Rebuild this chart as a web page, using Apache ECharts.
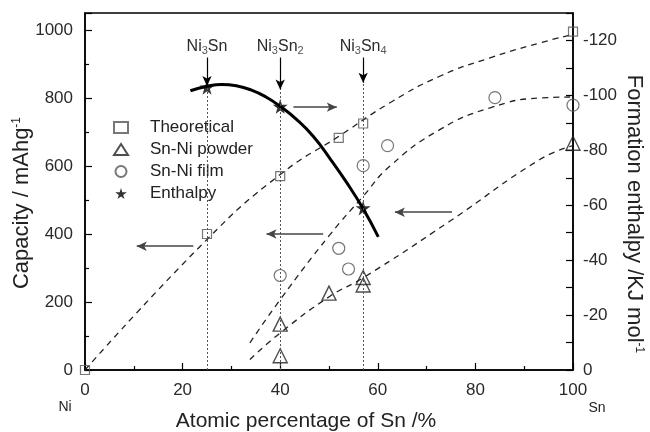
<!DOCTYPE html>
<html>
<head>
<meta charset="utf-8">
<script src="https://cdn.jsdelivr.net/npm/echarts@6/dist/echarts.min.js"></script>
<style>
  html, body { margin: 0; padding: 0; background: #fff; }
  #main { width: 650px; height: 432px; }
</style>
</head>
<body>
<div id="main"></div>
<script>
// measured points (x = atomic % Sn)
const pctTheo = [0, 25, 40, 52, 57, 100];
const capTheo = [0, 400, 570, 683, 725, 995];
const pctPowder = [40, 40, 50, 57, 57, 100];
const capPowder = [135, 42, 226, 272, 250, 667];
const pctFilm = [40, 52, 54, 57, 62, 84, 100];
const capFilm = [278, 358, 297, 601, 660, 801, 779];
const pctStar = [25, 40, 57];
const enthStar = [-103, -96, -59];

// curves
const pctCurve = [21.6, 25, 28, 31, 34, 37, 40, 43.5, 46.8, 50.2, 53.6, 57, 60.1];
const enthCurve = [-101.7, -103.3, -104, -103.5, -102, -99.5, -96, -91, -85, -77, -68.3, -58.7, -48.5];
const pctTheoFit = [0, 25, 40, 52.3, 62.5, 72.7, 83, 93.2, 100];
const capTheoFit = [0, 384, 575, 690, 786, 864, 918, 962, 987];
const pctFilmFit = [33.8, 40, 50.2, 57, 62.5, 72.7, 83, 93.2, 100];
const capFilmFit = [80, 207, 398, 511, 600, 707, 771, 800, 803];
const pctPowderFit = [33.8, 40, 50.2, 57, 74.8, 93.2, 100];
const capPowderFit = [31, 109, 217, 271, 438, 619, 660];

// phases: label, x, arrow top / tip (capacity units)
const phaseNames = ["Ni{sub|3}Sn", "Ni{sub|3}Sn{sub|2}", "Ni{sub|3}Sn{sub|4}"];
const phasePct = [25, 40, 57];
const phaseArrowTop = [919, 919, 919];
const phaseArrowTip = [835, 825, 845];

// horizontal arrows: [x from, x to, capacity]
const arrowFrom = [42.7, 75.2, 48.8, 22.2];
const arrowTo = [51.6, 63.5, 37.2, 10.6];
const arrowCap = [773, 464, 400, 364];

const ticksX = [0, 20, 40, 60, 80, 100];

const font = "Liberation Sans";
const star = "path://M50,0 L61,35 L98,35 L68,57 L79,91 L50,70 L21,91 L32,57 L2,35 L39,35 Z";
const zip = (a, b) => a.map((v, i) => [v, b[i]]);

const myChart = echarts.init(document.getElementById("main"));

const axisCommon = {
  type: "value",
  axisLine: { show: true, lineStyle: { color: "#000", width: 1.5 } },
  axisTick: { show: true, inside: true, length: 7, lineStyle: { color: "#000", width: 1.2 } },
  minorTick: { show: true, splitNumber: 2, length: 4, lineStyle: { color: "#000", width: 1.2 } },
  splitLine: { show: false },
  axisLabel: { fontFamily: font, fontSize: 17, color: "#2a2a2a" }
};

const dashed = { color: "#222", width: 1.3, type: [6, 5] };

let option = {
  animation: false,
  backgroundColor: "#fff",
  grid: {
    left: 85, right: 77, top: 13, bottom: 62,
    show: true, borderColor: "#000", borderWidth: 1.5, backgroundColor: "transparent"
  },
  legend: {
    orient: "vertical",
    left: 108,
    top: 114,
    itemWidth: 14,
    itemHeight: 11,
    itemGap: 5,
    data: ["Theoretical", "Sn-Ni powder", "Sn-Ni film", "Enthalpy"],
    textStyle: { fontFamily: font, fontSize: 17, color: "#222", padding: [0, 0, 0, 17] }
  },
  xAxis: Object.assign({}, axisCommon, {
    min: 0, max: 100, interval: 20,
    axisLabel: Object.assign({}, axisCommon.axisLabel, {
      margin: 12,
      formatter: v => (ticksX.indexOf(v) >= 0 ? String(v) : "")
    })
  }),
  yAxis: [
    Object.assign({}, axisCommon, {
      position: "left",
      min: 0, max: 1050, interval: 200,
      axisLabel: Object.assign({}, axisCommon.axisLabel, {
        margin: 12,
        formatter: v => (v % 200 === 0 ? String(v) : "")
      })
    }),
    Object.assign({}, axisCommon, {
      position: "right",
      min: -130, max: 0, interval: 10, inverse: true,
      minorTick: { show: false },
      axisLabel: Object.assign({}, axisCommon.axisLabel, {
        margin: 10,
        formatter: v => (v % 20 === 0 ? String(v) : "")
      })
    })
  ],
  graphic: [
    {
      type: "text", x: 22, y: 203, rotation: Math.PI / 2,
      style: {
        text: "Capacity / mAhg{sup|-1}",
        fontFamily: font, fontSize: 22, fill: "#222",
        align: "center", verticalAlign: "middle",
        rich: { sup: { fontFamily: font, fontSize: 12, fill: "#222", verticalAlign: "top", padding: [0, 0, 10, 0] } }
      }
    },
    {
      type: "text", x: 634, y: 214, rotation: -Math.PI / 2,
      style: {
        text: "Formation enthalpy /KJ mol{sup|-1}",
        fontFamily: font, fontSize: 22, fill: "#222",
        align: "center", verticalAlign: "middle",
        rich: { sup: { fontFamily: font, fontSize: 12, fill: "#222", verticalAlign: "top", padding: [0, 0, 10, 0] } }
      }
    },
    {
      type: "text", x: 306, y: 421,
      style: {
        text: "Atomic percentage of Sn /%",
        fontFamily: font, fontSize: 21, fill: "#222",
        align: "center", verticalAlign: "middle"
      }
    },
    {
      type: "text", x: 65, y: 407,
      style: { text: "Ni", fontFamily: font, fontSize: 14, fill: "#222", align: "center", verticalAlign: "middle" }
    },
    {
      type: "text", x: 597, y: 408,
      style: { text: "Sn", fontFamily: font, fontSize: 14, fill: "#222", align: "center", verticalAlign: "middle" }
    }
  ],
  series: [
    // dashed fits
    {
      name: "Theoretical fit",
      type: "line",
      smooth: true,
      symbol: "none",
      data: zip(pctTheoFit, capTheoFit),
      lineStyle: dashed,
      z: 1,
      // vertical dotted guides
      markLine: {
        silent: true,
        symbol: ["none", "none"],
        label: { show: false },
        lineStyle: { color: "#555", width: 1, type: [2, 2] },
        data: phasePct.map((p, i) => [{ coord: [p, 0] }, { coord: [p, phaseArrowTip[i]] }])
      }
    },
    {
      name: "Film fit",
      type: "line",
      smooth: true,
      symbol: "none",
      data: zip(pctFilmFit, capFilmFit),
      lineStyle: dashed,
      z: 1,
      // phase arrows with labels
      markLine: {
        silent: true,
        symbol: ["none", "arrow"],
        symbolSize: [7, 10],
        lineStyle: { color: "#000", width: 1.2, type: "solid" },
        label: {
          show: true,
          position: "start",
          distance: 1,
          fontFamily: font,
          fontSize: 16,
          color: "#2a2a2a",
          formatter: p => p.name,
          rich: { sub: { fontFamily: font, fontSize: 11, color: "#555", verticalAlign: "bottom", padding: [8, 0, 0, 0] } }
        },
        data: phasePct.map((p, i) => [
          { coord: [p, phaseArrowTop[i]], name: phaseNames[i] },
          { coord: [p, phaseArrowTip[i]] }
        ])
      }
    },
    {
      name: "Powder fit",
      type: "line",
      smooth: true,
      symbol: "none",
      data: zip(pctPowderFit, capPowderFit),
      lineStyle: dashed,
      z: 1,
      // horizontal arrows toward the axis each point belongs to
      markLine: {
        silent: true,
        symbol: ["none", "arrow"],
        symbolSize: [7, 10],
        label: { show: false },
        lineStyle: { color: "#444", width: 1.5, type: "solid" },
        data: arrowFrom.map((x, i) => [{ coord: [x, arrowCap[i]] }, { coord: [arrowTo[i], arrowCap[i]] }])
      }
    },
    // enthalpy fit curve
    {
      name: "Enthalpy curve",
      type: "line",
      yAxisIndex: 1,
      smooth: true,
      symbol: "none",
      data: zip(pctCurve, enthCurve),
      lineStyle: { color: "#000", width: 3 },
      z: 2
    },
    {
      name: "Theoretical",
      type: "scatter",
      symbol: "rect",
      symbolSize: 9,
      data: zip(pctTheo, capTheo),
      itemStyle: { color: "rgba(255,255,255,0)", borderColor: "#555", borderWidth: 1.2 },
      z: 3
    },
    {
      name: "Sn-Ni powder",
      type: "scatter",
      symbol: "triangle",
      symbolSize: 14,
      data: zip(pctPowder, capPowder),
      itemStyle: { color: "rgba(255,255,255,0)", borderColor: "#222", borderWidth: 1.4 },
      z: 3
    },
    {
      name: "Sn-Ni film",
      type: "scatter",
      symbol: "circle",
      symbolSize: 12,
      data: zip(pctFilm, capFilm),
      itemStyle: { color: "rgba(255,255,255,0)", borderColor: "#555", borderWidth: 1.2 },
      z: 3
    },
    {
      name: "Enthalpy",
      type: "scatter",
      yAxisIndex: 1,
      symbol: star,
      symbolSize: 15,
      data: zip(pctStar, enthStar),
      itemStyle: { color: "#000" },
      z: 4
    }
  ]
};

option && myChart.setOption(option);
window.addEventListener("resize", () => {
  myChart.resize();
});
</script>
</body>
</html>
